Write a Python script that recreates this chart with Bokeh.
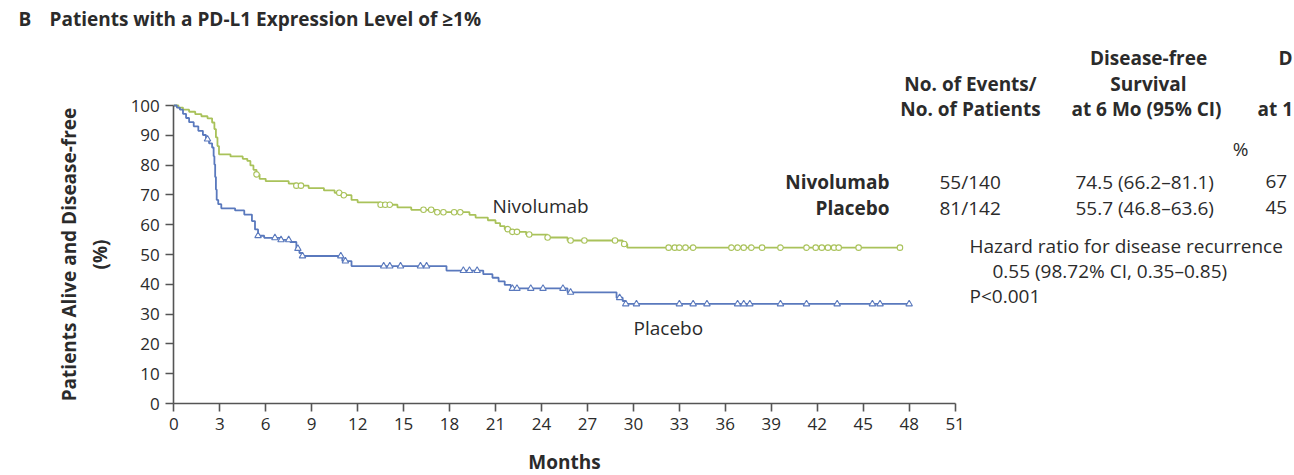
from bokeh.plotting import figure
from bokeh.models import Range1d, Label, FixedTicker
from bokeh.embed import file_html
from bokeh.resources import INLINE
import numpy as np

# ---------------- data ----------------
month_ticks = list(range(0, 52, 3))
pct_ticks = list(range(0, 101, 10))

nivo_t = [0, 0.3, 0.6, 1.0, 1.4, 1.8, 2.2, 2.5, 2.65, 2.75, 2.85, 2.95, 3.7, 4.5, 4.8, 5.0, 5.2,
          5.4, 5.6, 6.0, 7.5, 8.0, 8.8, 9.8, 10.5, 11.0, 11.6, 12.0, 13.5, 14.6, 15.5, 17.2,
          19.3, 19.7, 20.5, 21.0, 21.3, 21.6, 22.0, 23.0, 24.4, 25.7, 29.3, 29.6]
nivo_s = [100, 99.3, 98.6, 97.9, 97.1, 96.4, 95.7, 94.3, 92.1, 89.3, 86.4, 83.6, 82.9, 82.1, 81.4,
          79.9, 78.4, 76.9, 75.4, 74.6, 73.8, 73.1, 72.3, 71.5, 70.7, 69.9, 68.3, 67.5, 66.7,
          65.8, 65.0, 64.2, 63.3, 62.4, 61.5, 60.5, 59.5, 58.5, 57.6, 56.7, 55.7, 54.7, 53.5, 52.3]
nivo_cens = [5.4, 8.0, 8.3, 10.8, 11.1, 13.5, 13.8, 14.1, 16.3, 16.8, 17.2, 17.6, 18.3, 18.7,
             21.8, 22.1, 22.4, 23.2, 24.4, 25.9, 26.8, 28.8, 29.4, 32.3, 32.7, 33.0, 33.4, 33.9,
             36.4, 36.8, 37.2, 37.7, 38.4, 39.6, 41.3, 41.9, 42.3, 42.7, 43.1, 43.4, 44.7, 47.4]

plac_t = [0, 0.2, 0.4, 0.6, 0.8, 1.0, 1.3, 1.6, 1.9, 2.1, 2.3, 2.5, 2.6, 2.65, 2.7, 2.75, 2.8,
          2.9, 3.1, 4.0, 4.6, 5.1, 5.3, 5.5, 5.9, 7.0, 7.6, 8.0, 8.2, 8.4, 11.0, 11.6, 17.8,
          20.2, 20.8, 21.2, 21.6, 22.0, 25.7, 28.9, 29.3, 29.5]
plac_s = [100, 99.3, 98.6, 97.2, 95.8, 94.4, 93.0, 91.5, 90.1, 88.7, 87.3, 85.9, 83.0, 80.2,
          76.0, 71.8, 68.3, 66.9, 65.5, 64.8, 63.4, 61.2, 58.4, 56.3, 55.6, 54.9, 54.2, 52.0,
          50.5, 49.5, 47.8, 46.1, 44.6, 43.4, 42.2, 41.0, 39.8, 38.6, 37.3, 35.5, 34.4, 33.4]
plac_cens = [2.2, 5.5, 6.6, 7.0, 7.5, 8.1, 8.4, 10.9, 11.2, 13.7, 14.1, 14.8, 16.1, 16.5, 18.9,
             19.3, 19.8, 22.1, 22.4, 23.3, 24.1, 25.4, 25.9, 29.1, 29.5, 30.2, 33.0, 33.9, 34.8,
             36.8, 37.2, 37.6, 39.6, 41.3, 43.3, 45.6, 46.1, 48.0]

groups = ["Nivolumab", "Placebo"]
events = ["55/140", "81/142"]
dfs_6mo = ["74.5 (66.2\u201381.1)", "55.7 (46.8\u201363.6)"]
dfs_12mo = ["67", "45"]

GREEN = "#a9c25a"
BLUE = "#5a79bd"
FONT = "Open Sans"
TXT = "#2b2b2b"

# ---------------- geometry (frame fills the whole canvas) ----------------
W, H = 1294, 475
X0_PX, Y0_PX = 173.3, 403.0      # canvas position of (0 months, 0 %)
PX_PER_MONTH = 15.32
PX_PER_PCT = 2.98


def X(px):
    return (px - X0_PX) / PX_PER_MONTH


def Y(py):
    return (Y0_PX - py) / PX_PER_PCT


p = figure(width=W, height=H, output_backend="svg", toolbar_location=None,
           x_range=Range1d(X(0), X(W)), y_range=Range1d(Y(H), Y(0)),
           min_border_left=0, min_border_right=0, min_border_top=0, min_border_bottom=0)
p.outline_line_color = None
p.grid.visible = False
p.background_fill_color = "white"

for ax, ticks, bnds in ((p.xaxis, month_ticks, (0, 51)), (p.yaxis, pct_ticks, (0, 100))):
    ax.fixed_location = 0
    ax.ticker = FixedTicker(ticks=ticks)
    ax.bounds = bnds
    ax.minor_tick_line_color = None
    ax.major_tick_in = 0
    ax.major_tick_out = 8
    ax.axis_line_width = 1.6
    ax.major_tick_line_width = 1.6
    ax.axis_line_color = "#555555"
    ax.major_tick_line_color = "#555555"
    ax.major_label_text_font = FONT
    ax.major_label_text_font_size = "17px"
    ax.major_label_text_color = TXT
    ax.axis_label_text_font = FONT
    ax.axis_label_text_font_style = "bold"
    ax.axis_label_text_font_size = "19px"
    ax.axis_label_text_color = TXT

p.xaxis.axis_label = "Months"
p.xaxis.axis_label_standoff = 16
p.xaxis.major_label_standoff = 6
p.yaxis.axis_label = "Patients Alive and Disease-free\n(%)"
p.yaxis.axis_label_standoff = 14
p.yaxis.major_label_standoff = 6


def stairs(ts, ss, cens):
    xs = list(ts) + [max(cens)]
    ys = list(ss) + [ss[-1]]
    return xs, ys


def at(ts, ss, cens):
    idx = np.searchsorted(np.array(ts), np.array(cens), side="right") - 1
    return list(np.array(ss)[idx])


xs, ys = stairs(nivo_t, nivo_s, nivo_cens)
p.step(xs, ys, mode="after", line_color=GREEN, line_width=1.8)
p.scatter(nivo_cens, at(nivo_t, nivo_s, nivo_cens), marker="circle", size=5.5,
          fill_color="white", line_color=GREEN, line_width=1.1)

xs, ys = stairs(plac_t, plac_s, plac_cens)
p.step(xs, ys, mode="after", line_color=BLUE, line_width=1.8)
p.scatter(plac_cens, at(plac_t, plac_s, plac_cens), marker="triangle", size=6.5,
          fill_color="white", line_color=BLUE, line_width=1.1)


def lab(text, px, py, align="left", bold=False, size="19px", color=TXT):
    p.add_layout(Label(x=X(px), y=Y(py), text=text, text_align=align, text_baseline="middle",
                       text_font=FONT, text_font_size=size, text_color=color,
                       text_font_style="bold" if bold else "normal"))


lab("B", 18, 18, bold=True)
lab("Patients with a PD-L1 Expression Level of \u22651%", 49, 18, bold=True)

lab("Nivolumab", 492, 205)
lab("Placebo", 633, 327)

lab("Disease-free", 1148, 57, align="center", bold=True)
lab("Survival", 1148, 83, align="center", bold=True)
lab("at 6 Mo (95% CI)", 1146, 108, align="center", bold=True)
lab("D", 1278, 57, bold=True)
lab("at 1", 1257, 108, bold=True)
lab("No. of Events/", 970, 83, align="center", bold=True)
lab("No. of Patients", 970, 108, align="center", bold=True)
lab("%", 1240, 148, align="center")

for i, py in enumerate((181, 207)):
    lab(groups[i], 889, py, align="right", bold=True)
    lab(events[i], 939, py)
    lab(dfs_6mo[i], 1075, py)
    lab(dfs_12mo[i], 1265, py)

lab("Hazard ratio for disease recurrence", 969, 245)
lab("0.55 (98.72% CI, 0.35\u20130.85)", 992, 270)
lab("P<0.001", 969, 295)

open("out.html", "w").write(file_html(p, INLINE))
